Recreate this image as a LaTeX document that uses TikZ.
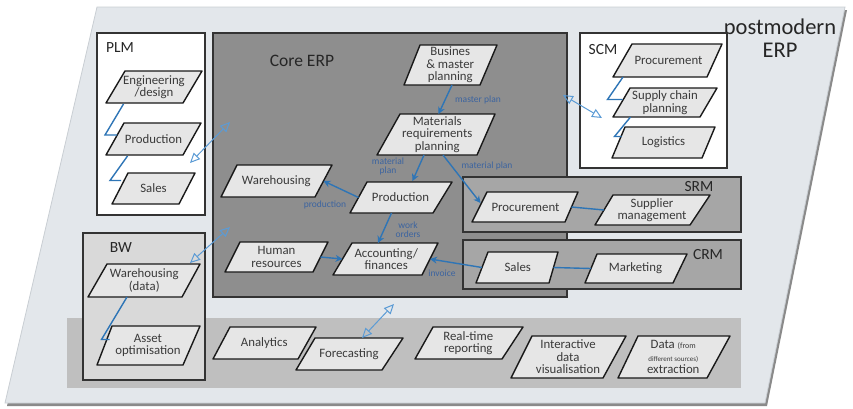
\documentclass[tikz,border=0pt]{standalone}
\usepackage{fontspec}
\setmainfont{Carlito}
\usetikzlibrary{arrows.meta,calc}
\definecolor{outerbg}{HTML}{E3E7EB}
\definecolor{outerln}{HTML}{C9CED3}
\definecolor{shadowc}{HTML}{8A8A8A}
\definecolor{corefill}{HTML}{8E8E8E}
\definecolor{subfill}{HTML}{A6A6A6}
\definecolor{bwfill}{HTML}{D9D9D9}
\definecolor{bandfill}{HTML}{BFBFBF}
\definecolor{nodefill}{HTML}{E6E6E6}
\definecolor{nodetext}{HTML}{3A3A3A}
\definecolor{flowblue}{HTML}{2E75B6}
\definecolor{labelblue}{HTML}{3C64A0}
\definecolor{lightblue}{HTML}{5B9BD5}
\tikzset{
  parabox/.style={draw=black!90, line width=1.4pt, fill=nodefill, line join=round},
  paratext/.style={inner sep=0pt, align=center, font=\fontsize{12.8}{12.6}\selectfont, text=nodetext},
  flow/.style={draw=flowblue, line width=1.4pt, -{Stealth[length=7pt,width=7pt]}},
  link/.style={draw=flowblue, line width=1.4pt},
  flowlabel/.style={font=\fontsize{9.5}{9}\selectfont, text=labelblue, align=center, inner sep=0pt},
  dbl/.style={draw=lightblue, line width=1pt, {Triangle[open,length=10pt,width=9pt]}-{Triangle[open,length=10pt,width=9pt]}},
  areabox/.style={draw=black!80, line width=1.3pt},
  areatitle/.style={font=\fontsize{15.5}{15.5}\selectfont, text=black!85, inner sep=0pt},
}
% name, top-left x, top-right x, bottom-left x, bottom-right x, top y, bottom y, text
\newcommand\para[8]{%
  \draw[parabox] (#2,#6) -- (#3,#6) -- (#5,#7) -- (#4,#7) -- cycle;
  \node[paratext] (#1) at ({(#2+#3+#4+#5)/4},{(#6+#7)/2}) {#8};
  \coordinate (#1-w) at ({(#2+#4)/2},{(#6+#7)/2});
  \coordinate (#1-e) at ({(#3+#5)/2},{(#6+#7)/2});
  \coordinate (#1-n) at ({(#2+#3)/2},#6);
  \coordinate (#1-s) at ({(#4+#5)/2},#7);
}
\begin{document}
\begin{tikzpicture}[x=1pt,y=-1pt]
\useasboundingbox (0,0) rectangle (853,408);
% outer postmodern ERP area
\fill[shadowc] (99,10) -- (847,10) -- (767,406) -- (7,406) -- cycle;
\filldraw[fill=outerbg, draw=outerln, line width=0.8pt] (97,7) -- (845,7) -- (765,403) -- (5,403) -- cycle;
\node[font=\fontsize{22.5}{23}\selectfont, align=center, inner sep=0pt, text=black!85] (pm) at (780,38) {postmodern\\ERP};
% bottom band
\fill[bandfill] (67,318) rectangle (741,388);
% PLM
\filldraw[areabox, fill=white] (97,33) rectangle (205,215);
\node[areatitle] (plm) at (120,48) {PLM};
% Core ERP
\filldraw[areabox, fill=corefill] (213,33) rectangle (567,297);
\node[areatitle, font=\fontsize{17.5}{17.5}\selectfont] (core) at (302,61) {Core ERP};
% SCM
\filldraw[areabox, fill=white] (580,33) rectangle (727,168);
\node[areatitle] (scm) at (603,50) {SCM};
% SRM / CRM
\filldraw[areabox, fill=subfill] (463,177) rectangle (741,232);
\node[areatitle] (srm) at (699,187) {SRM};
\filldraw[areabox, fill=subfill] (463,240) rectangle (741,289);
\node[areatitle] (crm) at (708,255) {CRM};
% BW
\filldraw[areabox, fill=bwfill] (83,233) rectangle (205,380);
\node[areatitle] (bw) at (121,248) {BW};

% PLM nodes
\para{eng}{125}{202}{106}{183}{71}{103}{Engineering\\/design}
\para{plmprod}{124}{201}{106}{183}{123}{155}{Production}
\para{plmsales}{128}{195}{112}{179}{173}{204}{Sales}
% Core nodes
\para{bmp}{420}{497}{404}{480}{45}{85}{Busines\\\& master\\planning}
\para{mrp}{400}{495}{377}{477}{114}{155}{Materials\\requirements\\planning}
\para{wh}{237}{332}{221}{315}{165}{197}{Warehousing}
\para{prod}{367}{452}{350}{433}{182}{213}{Production}
\para{hr}{240}{328}{225}{313}{242}{272}{Human\\resources}
\para{acc}{352}{438}{333}{422}{243}{275}{Accounting/\\finances}
% SRM nodes
\para{srmproc}{487}{578}{472}{565}{192}{222}{Procurement}
\para{supp}{613}{710}{595}{690}{195}{225}{Supplier\\management}
% CRM nodes
\para{crmsales}{488}{558}{476}{549}{252}{283}{Sales}
\para{mkt}{597}{687}{585}{673}{254}{283}{Marketing}
% SCM nodes
\para{scmproc}{632}{722}{613}{707}{44}{77}{Procurement}
\para{scp}{630}{717}{613}{700}{88}{117}{Supply chain\\planning}
\para{log}{625}{715}{612}{702}{127}{158}{Logistics}
% BW nodes
\para{bwwh}{107}{200}{88}{182}{264}{297}{Warehousing\\(data)}
\para{asset}{112}{200}{97}{183}{326}{365}{Asset\\optimisation}
% band nodes
\para{analytics}{230}{316}{213}{298}{327}{359}{Analytics}
\para{forecast}{315}{403}{296}{382}{338}{370}{Forecasting}
\para{rtr}{433}{523}{415}{502}{327}{359}{Real-time\\reporting}
\para{idv}{532}{626}{511}{603}{336}{378}{Interactive\\data\\visualisation}
\para{dfe}{638}{730}{618}{707}{336}{378}{Data {\fontsize{8}{8}\selectfont(from}\\{\fontsize{7}{8}\selectfont different sources)}\\extraction}

% PLM links
\draw[link] ($(eng-s)+(-21,1)$) -- ($(plmprod-w)+(-10,-4)$) -- ($(plmprod-w)+(2,-4)$);
\draw[link] ($(plmprod-s)+(-17,1)$) -- ($(plmsales-w)+(-10,-8)$) -- ($(plmsales-w)+(1,-8)$);
% SCM links
\draw[link] ($(scmproc-s)+(-37,0)$) -- ($(scp-w)+(-14,-3)$) -- ($(scp-w)+(1,-3)$);
\draw[link] ($(scp-s)+(-26,0)$) -- ($(log-w)+(-4,-6)$) -- ($(log-w)+(3,-6)$);
% BW link
\draw[link] ($(bwwh-s)+(-8,0)$) -- ($(asset-w)+(-3,-6)$) -- ($(asset-w)+(5,-6)$);

% Core flows
\draw[flow] ($(bmp-s)+(10,0)$) -- ($(mrp-n)+(-9,0)$);
\node[flowlabel] (lmp) at (478,100) {master plan};
\draw[flow] ($(mrp-s)+(-3,0)$) -- ($(prod-n)+(3,-1)$);
\node[flowlabel] (lmat1) at (388,166) {material\\plan};
\draw[flow] ($(mrp-s)+(16,0)$) -- ($(srmproc-w)+(1,-4)$);
\node[flowlabel] (lmat2) at (487,166) {material plan};
\draw[flow] (prod-w) -- (wh-e);
\node[flowlabel] (lprod) at (325,205) {production};
\draw[flow] (prod-s) -- ($(acc-n)+(-17,0)$);
\node[flowlabel] (lwork) at (408,230) {work\\orders};
\draw[flow] (hr-e) -- (acc-w);
\draw[flow] (crmsales-w) -- (acc-e);
\node[flowlabel] (linv) at (442,273) {invoice};
\draw[link] (srmproc-e) -- (supp-w);
\draw[link] (crmsales-e) -- (mkt-w);

% integration arrows
\coordinate (plmA) at (190,163);
\coordinate (coreA) at (230,122);
\draw[dbl] (plmA) -- (coreA);
\coordinate (coreB) at (563,95);
\coordinate (scmB) at (602,118);
\draw[dbl] (coreB) -- (scmB);
\coordinate (bwC) at (190,263);
\coordinate (coreC) at (230,227);
\draw[dbl] (bwC) -- (coreC);
\coordinate (bandD) at (362,338);
\coordinate (coreD) at (394,304);
\draw[dbl] (bandD) -- (coreD);
\end{tikzpicture}
\end{document}
